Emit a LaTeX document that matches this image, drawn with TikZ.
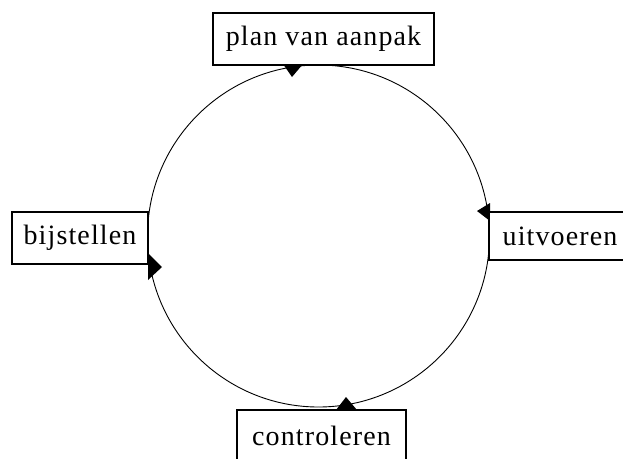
\documentclass[tikz,border=0pt]{standalone}
\usepackage{fontspec}
\setmainfont{Liberation Serif}[LetterSpace=4]
\begin{document}
\begin{tikzpicture}[x=1pt,y=-1pt,
  stepbox/.style={draw=black,line width=1.4pt,fill=white,inner sep=0pt,
    minimum height=#1, font=\fontsize{28}{30}\selectfont},
  stepbox/.default=52pt,
  cycleline/.style={draw=black,line width=0.9pt},
  tipfill/.style={fill=black}]
\useasboundingbox (0,0) rectangle (623,458);
\fill[white] (0,0) rectangle (623,458);
\coordinate (c) at (318.5,236);
% circle arcs (behind boxes)
\draw[cycleline] ([shift={(90:171)}]c) arc[start angle=90,end angle=0,radius=171];
\draw[cycleline] ([shift={(0:171)}]c) arc[start angle=0,end angle=-90,radius=171];
\draw[cycleline] ([shift={(-90:171)}]c) arc[start angle=-90,end angle=-180,radius=171];
\draw[cycleline] ([shift={(180:171)}]c) arc[start angle=180,end angle=90,radius=171];
% arrow heads
\fill[tipfill] (283,64) -- (303,64) -- (292,77) -- cycle;
\fill[tipfill] (490,203) -- (490,221) -- (477,211) -- cycle;
\fill[tipfill] (336,410) -- (357,410) -- (346,397) -- cycle;
\fill[tipfill] (148,253) -- (148,280) -- (162,267) -- cycle;
% boxes
\node[stepbox,minimum width=221pt] (plan) at (323.5,39) {plan van aanpak};
\node[stepbox=48pt,minimum width=142pt] (uit) at (560,236) {uitvoeren};
\node[stepbox,minimum width=169pt] (contr) at (321.5,436) {controleren};
\node[stepbox,minimum width=136pt] (bij) at (80,238) {bijstellen};
\end{tikzpicture}
\end{document}
